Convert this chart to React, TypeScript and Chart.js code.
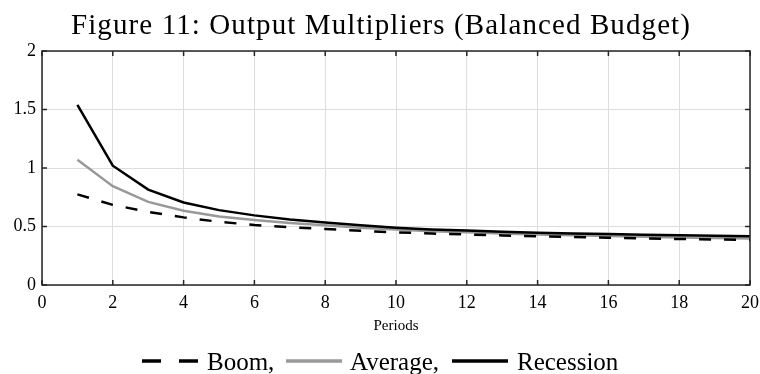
import React, { useEffect, useRef } from "react";
import { Chart, registerables } from "chart.js";

Chart.register(...registerables);

const periods = [1, 2, 3, 4, 5, 6, 7, 8, 9, 10, 11, 12, 13, 14, 15, 16, 17, 18, 19, 20];
const boom = [0.775, 0.685, 0.625, 0.578, 0.54, 0.513, 0.494, 0.478, 0.463, 0.45, 0.44, 0.432, 0.424, 0.416, 0.41, 0.404, 0.398, 0.393, 0.389, 0.385];
const average = [1.07, 0.845, 0.71, 0.635, 0.585, 0.555, 0.53, 0.51, 0.49, 0.475, 0.46, 0.45, 0.44, 0.432, 0.425, 0.418, 0.412, 0.407, 0.402, 0.398];
const recession = [1.54, 1.02, 0.815, 0.705, 0.64, 0.595, 0.56, 0.535, 0.51, 0.49, 0.475, 0.465, 0.455, 0.447, 0.44, 0.435, 0.43, 0.425, 0.42, 0.417];
const xTicks = [0, 2, 4, 6, 8, 10, 12, 14, 16, 18, 20];
const yTicks = [0, 0.5, 1, 1.5, 2];
const titleText = "Figure 11: Output Multipliers (Balanced Budget)";
const xLabel = "Periods";
const legendLabels = ["Boom,", "Average,", "Recession"];

const FONT = "'Liberation Serif', 'DejaVu Serif', serif";

const decorPlugin = {
  id: "decor",
  afterDraw(chart: any) {
    const { ctx, chartArea } = chart;
    const { left, right, top, bottom } = chartArea;
    const xs = chart.scales.x;
    const ys = chart.scales.y;
    ctx.save();
    // frame
    ctx.strokeStyle = "#262626";
    ctx.lineWidth = 1.5;
    ctx.strokeRect(left, top, right - left, bottom - top);
    // inward ticks
    const tl = 5;
    ctx.beginPath();
    xTicks.forEach((t) => {
      const px = xs.getPixelForValue(t);
      ctx.moveTo(px, bottom);
      ctx.lineTo(px, bottom - tl);
      ctx.moveTo(px, top);
      ctx.lineTo(px, top + tl);
    });
    yTicks.forEach((t) => {
      const py = ys.getPixelForValue(t);
      ctx.moveTo(left, py);
      ctx.lineTo(left + tl, py);
      ctx.moveTo(right, py);
      ctx.lineTo(right - tl, py);
    });
    ctx.stroke();
    // title
    ctx.fillStyle = "#000";
    ctx.textAlign = "center";
    ctx.textBaseline = "alphabetic";
    ctx.font = `29px ${FONT}`;
    try { (ctx as any).letterSpacing = "1.1px"; } catch (e) {}
    ctx.fillText(titleText, 381, 34);
    try { (ctx as any).letterSpacing = "0px"; } catch (e) {}
    // x label
    ctx.font = `15px ${FONT}`;
    ctx.fillText(xLabel, (left + right) / 2, 330);
    // legend
    const ly = 361;
    ctx.textAlign = "left";
    ctx.font = `25px ${FONT}`;
    const items = [
      { x0: 142, x1: 198, color: "#000", dash: [19, 18], tx: 207, label: legendLabels[0] },
      { x0: 286, x1: 342, color: "#999999", dash: [], tx: 350, label: legendLabels[1] },
      { x0: 452, x1: 508, color: "#000", dash: [], tx: 517, label: legendLabels[2] },
    ];
    items.forEach((it) => {
      ctx.beginPath();
      ctx.strokeStyle = it.color;
      ctx.lineWidth = 3.5;
      ctx.setLineDash(it.dash);
      ctx.moveTo(it.x0, ly);
      ctx.lineTo(it.x1, ly);
      ctx.stroke();
      ctx.setLineDash([]);
      ctx.fillStyle = "#000";
      ctx.fillText(it.label, it.tx, 370);
    });
    ctx.restore();
  },
};

export default function App() {
  const ref = useRef<HTMLCanvasElement>(null);
  useEffect(() => {
    if (!ref.current) return;
    const mk = (arr: number[]) => periods.map((p, i) => ({ x: p, y: arr[i] }));
    const chart = new Chart(ref.current, {
      type: "line",
      data: {
        datasets: [
          { label: "Boom", data: mk(boom), borderColor: "#000", borderWidth: 2.5, borderDash: [12, 13], pointRadius: 0, tension: 0, order: 1 },
          { label: "Average", data: mk(average), borderColor: "#999999", borderWidth: 2.5, pointRadius: 0, tension: 0, order: 3 },
          { label: "Recession", data: mk(recession), borderColor: "#000", borderWidth: 2.5, pointRadius: 0, tension: 0, order: 2 },
        ],
      },
      options: {
        responsive: false,
        animation: false,
        layout: { padding: { left: 0, right: 10, top: 51, bottom: 0 } },
        plugins: { legend: { display: false }, title: { display: false }, tooltip: { enabled: false } },
        scales: {
          x: {
            type: "linear",
            min: 0,
            max: 20,
            afterBuildTicks: (s: any) => { s.ticks = xTicks.map((v) => ({ value: v })); },
            afterFit: (s: any) => { s.height = 89; s.paddingRight = 0; },
            grid: { color: "#dedede", lineWidth: 1, drawTicks: false },
            border: { display: false },
            ticks: { padding: 7, color: "#000", font: { family: FONT, size: 18 }, maxRotation: 0, callback: (v: any) => String(v) },
          },
          y: {
            type: "linear",
            min: 0,
            max: 2,
            afterBuildTicks: (s: any) => { s.ticks = yTicks.map((v) => ({ value: v })); },
            afterFit: (s: any) => { s.width = 42; },
            grid: { color: "#dedede", lineWidth: 1, drawTicks: false },
            border: { display: false },
            ticks: { padding: 6, color: "#000", font: { family: FONT, size: 18 }, callback: (v: any) => String(v) },
          },
        },
      },
      plugins: [decorPlugin],
    } as any);
    return () => chart.destroy();
  }, []);
  return (
    <div style={{ position: "absolute", left: 0, top: 0, width: 760, height: 374, background: "#fff" }}>
      <canvas ref={ref} width={760} height={374} style={{ display: "block" }} />
    </div>
  );
}
